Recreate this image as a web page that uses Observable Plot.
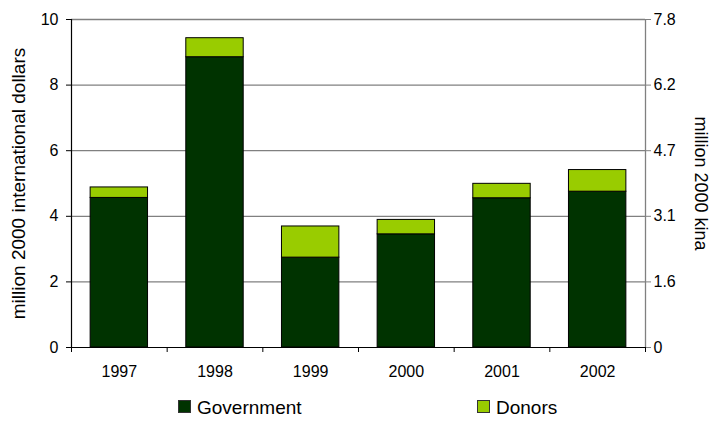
<!DOCTYPE html>
<html>
<head>
<meta charset="utf-8">
<script src="https://cdn.jsdelivr.net/npm/d3@7"></script>
<script src="https://cdn.jsdelivr.net/npm/@observablehq/plot@0.6"></script>
<style>
  html, body { margin: 0; padding: 0; background: #fff; }
  body { font-family: "Liberation Sans", Arial, sans-serif; width: 712px; height: 421px; overflow: hidden; }
  #legend { position: relative; width: 712px; height: 26px; font-size: 19px; color: #000; }
  #legend .item { position: absolute; top: 0; height: 26px; line-height: 26px; white-space: nowrap; }
  #legend .sw { display: inline-block; width: 11px; height: 11px; border: 1px solid #333; vertical-align: middle; margin-right: 6px; position: relative; top: -2px; }
</style>
</head>
<body>
<div id="chart"></div>
<div id="legend"></div>
<script>
const years = ["1997", "1998", "1999", "2000", "2001", "2002"];
const government = [4.56, 8.85, 2.74, 3.45, 4.55, 4.75];
const donors = [0.32, 0.58, 0.95, 0.44, 0.44, 0.66];
const seriesNames = ["Government", "Donors"];
const seriesColors = ["#003300", "#99CC00"];
const leftTicks = [0, 2, 4, 6, 8, 10];
const rightTickLabels = ["0", "1.6", "3.1", "4.7", "6.2", "7.8"];
const leftTitle = "million 2000 international dollars";
const rightTitle = "million 2000 kina";

const rows = [];
years.forEach((year, i) => {
  rows.push({i, year, series: seriesNames[0], y1: 0, y2: government[i]});
  rows.push({i, year, series: seriesNames[1], y1: government[i], y2: government[i] + donors[i]});
});
const boundaries = years.map((_, i) => i).concat([years.length]);
const centers = years.map((_, i) => i + 0.5);

const chart = Plot.plot({
  width: 712,
  height: 395,
  marginLeft: 71,
  marginRight: 67,
  marginTop: 19,
  marginBottom: 48,
  style: {fontFamily: "'Liberation Sans', Arial, sans-serif", fontSize: "16px", color: "#000", background: "#fff"},
  x: {type: "linear", domain: [0, years.length], axis: null},
  y: {domain: [0, 10], axis: null},
  color: {domain: seriesNames, range: seriesColors},
  marks: [
    Plot.ruleY(leftTicks.slice(1), {stroke: "#808080", strokeWidth: 1.3}),
    Plot.ruleX([years.length], {stroke: "#808080", strokeWidth: 1.3}),
    Plot.rect(rows, {
      x1: d => d.i + 0.2,
      x2: d => d.i + 0.8,
      y1: "y1",
      y2: "y2",
      fill: "series",
      stroke: "#000",
      strokeWidth: 1
    }),
    Plot.ruleX([0], {stroke: "#000", strokeWidth: 1.2}),
    Plot.ruleY([0], {stroke: "#000", strokeWidth: 1.2}),
    Plot.axisY({anchor: "left", ticks: leftTicks, tickSize: 5, tickPadding: 8, fontSize: 16, label: null, stroke: "#000"}),
    Plot.axisY({anchor: "right", ticks: leftTicks, tickSize: 5, tickPadding: 3, fontSize: 16, label: null, stroke: "#808080",
      tickFormat: d => rightTickLabels[leftTicks.indexOf(d)]}),
    Plot.axisX({ticks: boundaries, tickSize: 5, tickFormat: () => "", label: null, stroke: "#000"}),
    Plot.axisX({ticks: centers, tickSize: 0, tickPadding: 18, fontSize: 16, label: null,
      tickFormat: d => years[Math.floor(d)]}),
    Plot.text([leftTitle], {frameAnchor: "left", rotate: -90, dx: -53, fontSize: 19, text: d => d, textAnchor: "middle", lineAnchor: "middle"}),
    Plot.text([rightTitle], {frameAnchor: "right", rotate: 90, dx: 55, fontSize: 18, text: d => d, textAnchor: "middle", lineAnchor: "middle"})
  ]
});
document.getElementById("chart").appendChild(chart);

const legend = document.getElementById("legend");
const legendX = [178, 477];
seriesNames.forEach((name, k) => {
  const item = document.createElement("div");
  item.className = "item";
  item.style.left = legendX[k] + "px";
  const sw = document.createElement("span");
  sw.className = "sw";
  sw.style.background = seriesColors[k];
  item.appendChild(sw);
  item.appendChild(document.createTextNode(name));
  legend.appendChild(item);
});
</script>
</body>
</html>
